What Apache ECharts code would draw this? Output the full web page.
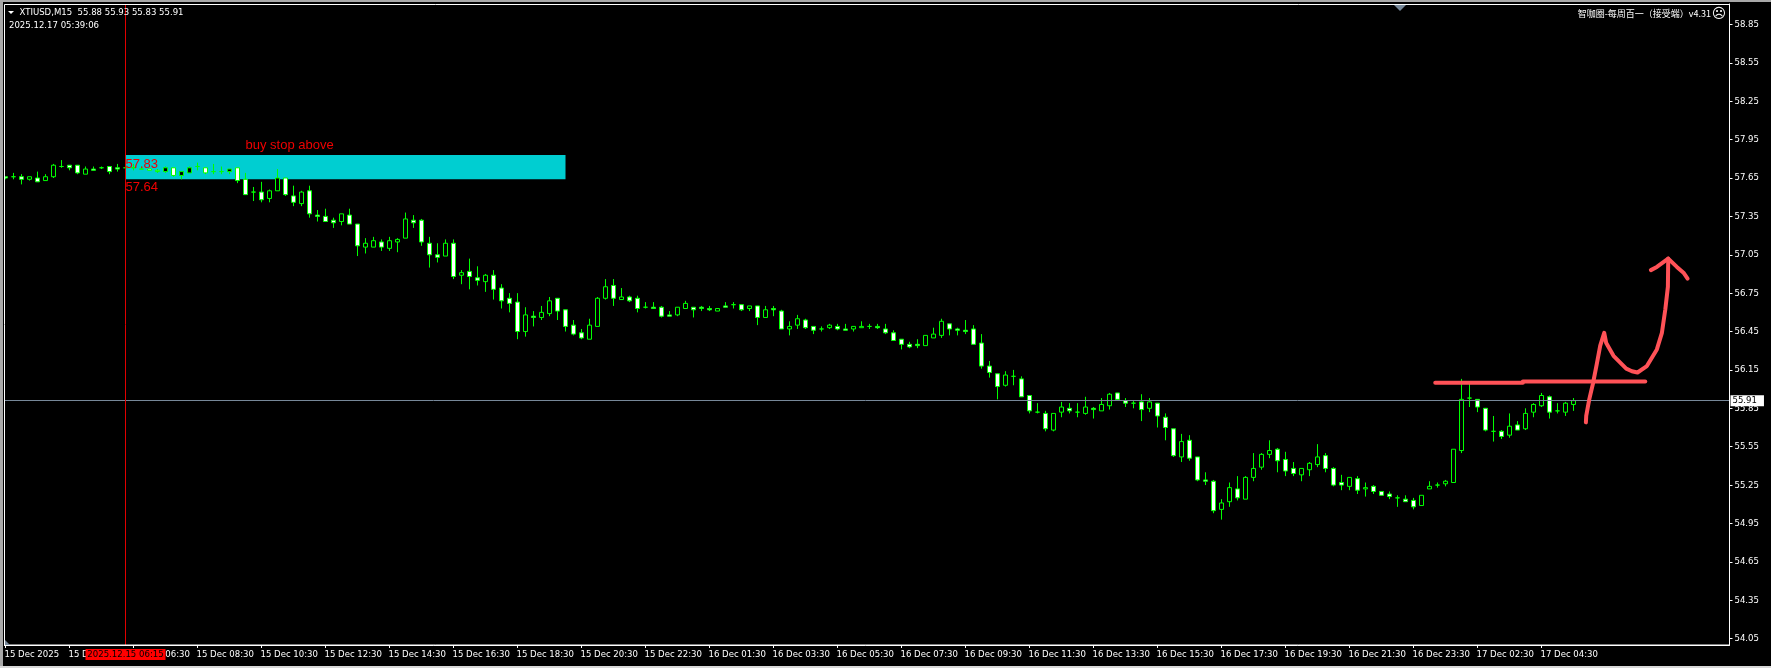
<!DOCTYPE html>
<html>
<head>
<meta charset="utf-8">
<title>XTIUSD,M15</title>
<style>
  html, body { margin: 0; padding: 0; background: #000; }
  #main { width: 1771px; height: 668px; }
</style>
<script src="https://cdn.jsdelivr.net/npm/echarts@6/dist/echarts.min.js"></script>
</head>
<body>
<div id="main"></div>
<script>
// M15 bars
var opens = [
  57.66,57.66,57.66,57.64,57.65,57.63,57.66,57.74,57.75,57.75,
  57.68,57.72,57.73,57.74,57.73,57.73,57.73,57.72,57.72,57.71,
  57.70,57.73,57.67,57.69,57.74,57.73,57.70,57.70,57.70,57.73,
  57.64,57.54,57.54,57.49,57.55,57.65,57.51,57.45,57.55,57.36,
  57.35,57.32,57.31,57.36,57.29,57.11,57.11,57.15,57.10,57.15,
  57.18,57.32,57.32,57.14,57.05,57.04,57.14,56.89,56.92,56.87,
  56.84,56.89,56.79,56.71,56.68,56.45,56.57,56.56,56.59,56.71,
  56.62,56.50,56.44,56.39,56.49,56.71,56.81,56.70,56.72,56.71,
  56.64,56.64,56.64,56.58,56.58,56.63,56.64,56.64,56.63,56.61,
  56.65,56.66,56.66,56.63,56.65,56.56,56.63,56.61,56.47,56.50,
  56.54,56.49,56.47,56.48,56.49,56.47,56.47,56.48,56.49,56.49,
  56.47,56.44,56.39,56.35,56.35,56.34,56.40,56.42,56.51,56.47,
  56.46,56.47,56.36,56.18,56.12,56.03,56.10,56.08,55.95,55.82,
  55.81,55.68,55.82,55.85,55.82,55.81,55.85,55.83,55.87,55.97,
  55.91,55.89,55.90,55.85,55.89,55.78,55.69,55.47,55.60,55.47,
  55.29,55.28,55.06,55.12,55.22,55.14,55.31,55.39,55.49,55.53,
  55.45,55.38,55.33,55.37,55.41,55.48,55.38,55.27,55.24,55.30,
  55.22,55.24,55.20,55.18,55.15,55.14,55.13,55.09,55.22,55.25,
  55.26,55.27,55.52,55.93,55.92,55.85,55.67,55.67,55.64,55.72,
  55.69,55.82,55.87,55.94,55.83,55.82,55.88
];
var closes = [
  57.65,57.66,57.64,57.66,57.62,57.66,57.75,57.74,57.73,57.69,
  57.72,57.71,57.73,57.70,57.72,57.73,57.73,57.72,57.71,57.70,
  57.73,57.67,57.70,57.73,57.74,57.69,57.70,57.70,57.72,57.63,
  57.52,57.54,57.48,57.55,57.65,57.52,57.46,57.54,57.37,57.35,
  57.31,57.30,57.37,57.29,57.12,57.14,57.16,57.11,57.16,57.17,
  57.33,57.30,57.15,57.05,57.03,57.14,56.88,56.91,56.88,56.85,
  56.89,56.78,56.69,56.67,56.45,56.58,56.56,56.60,56.69,56.61,
  56.49,56.43,56.40,56.50,56.71,56.80,56.71,56.72,56.69,56.63,
  56.64,56.63,56.57,56.57,56.64,56.67,56.62,56.63,56.62,56.63,
  56.64,56.66,56.62,56.65,56.56,56.62,56.62,56.47,56.49,56.55,
  56.48,56.46,56.47,56.50,56.47,56.46,56.49,56.49,56.49,56.48,
  56.44,56.38,56.35,56.33,56.34,56.42,56.43,56.53,56.47,56.46,
  56.45,56.35,56.18,56.13,56.02,56.11,56.10,55.94,55.83,55.82,
  55.69,55.81,55.86,55.83,55.82,55.86,55.84,55.88,55.96,55.92,
  55.89,55.89,55.84,55.90,55.79,55.70,55.48,55.59,55.46,55.29,
  55.28,55.05,55.11,55.23,55.15,55.31,55.38,55.49,55.52,55.44,
  55.36,55.34,55.38,55.42,55.47,55.38,55.25,55.25,55.31,55.21,
  55.23,55.20,55.17,55.16,55.15,55.12,55.08,55.17,55.24,55.25,
  55.28,55.53,55.92,55.93,55.86,55.68,55.67,55.63,55.71,55.68,
  55.81,55.88,55.95,55.82,55.83,55.89,55.91
];
var highs = [
  57.66,57.69,57.68,57.66,57.70,57.68,57.76,57.79,57.75,57.75,
  57.74,57.74,57.74,57.74,57.76,57.74,57.76,57.74,57.72,57.72,
  57.74,57.73,57.70,57.74,57.77,57.73,57.76,57.74,57.72,57.73,
  57.69,57.58,57.62,57.56,57.72,57.65,57.59,57.55,57.59,57.40,
  57.41,57.34,57.37,57.41,57.29,57.18,57.19,57.17,57.19,57.18,
  57.38,57.36,57.33,57.19,57.14,57.17,57.17,56.93,57.02,56.96,
  56.90,56.93,56.82,56.75,56.75,56.64,56.61,56.65,56.72,56.71,
  56.62,56.54,56.47,56.55,56.72,56.86,56.86,56.79,56.73,56.73,
  56.68,56.68,56.65,56.61,56.64,56.69,56.64,56.65,56.65,56.63,
  56.68,56.68,56.66,56.65,56.65,56.65,56.65,56.62,56.53,56.58,
  56.55,56.49,56.49,56.51,56.51,56.51,56.49,56.53,56.51,56.51,
  56.51,56.46,56.39,56.37,56.39,56.42,56.48,56.55,56.51,56.48,
  56.54,56.50,56.43,56.22,56.12,56.14,56.15,56.10,55.95,55.89,
  55.83,55.81,55.90,55.89,55.89,55.94,55.86,55.93,55.97,55.97,
  55.93,55.91,55.96,55.93,55.89,55.81,55.69,55.65,55.64,55.47,
  55.35,55.29,55.14,55.27,55.32,55.32,55.50,55.50,55.60,55.54,
  55.51,55.43,55.38,55.43,55.57,55.50,55.39,55.33,55.31,55.32,
  55.27,55.25,55.20,55.20,55.17,55.17,55.15,55.17,55.28,55.27,
  55.29,55.53,56.08,56.05,55.92,55.85,55.79,55.68,55.81,55.75,
  55.85,55.89,55.97,55.95,55.89,55.90,55.93
];
var lows = [
  57.64,57.64,57.60,57.63,57.62,57.63,57.65,57.73,57.71,57.68,
  57.68,57.71,57.72,57.68,57.70,57.72,57.71,57.72,57.71,57.69,
  57.69,57.66,57.64,57.69,57.71,57.68,57.68,57.68,57.68,57.61,
  57.52,57.47,57.46,57.46,57.55,57.51,57.43,57.43,57.34,57.31,
  57.31,57.26,57.28,57.29,57.04,57.06,57.11,57.08,57.08,57.07,
  57.18,57.26,57.12,56.95,56.99,57.04,56.86,56.82,56.78,56.81,
  56.76,56.70,56.63,56.60,56.39,56.41,56.49,56.54,56.57,56.54,
  56.45,56.42,56.39,56.39,56.49,56.70,56.65,56.70,56.68,56.60,
  56.63,56.63,56.56,56.57,56.57,56.63,56.56,56.61,56.61,56.61,
  56.64,56.63,56.61,56.61,56.50,56.56,56.57,56.47,56.42,56.47,
  56.47,56.43,56.45,56.47,56.46,56.46,56.45,56.48,56.47,56.47,
  56.43,56.38,56.31,56.32,56.32,56.34,56.40,56.40,56.42,56.42,
  56.43,56.35,56.16,56.09,55.92,56.02,56.03,55.94,55.81,55.81,
  55.67,55.67,55.78,55.81,55.78,55.80,55.77,55.83,55.84,55.92,
  55.86,55.85,55.75,55.82,55.70,55.60,55.47,55.43,55.44,55.28,
  55.25,55.03,54.98,55.08,55.13,55.14,55.28,55.37,55.46,55.35,
  55.32,55.32,55.28,55.32,55.39,55.35,55.24,55.21,55.21,55.18,
  55.16,55.18,55.17,55.14,55.08,55.12,55.06,55.09,55.22,55.23,
  55.24,55.27,55.50,55.86,55.82,55.67,55.59,55.61,55.62,55.68,
  55.68,55.78,55.86,55.77,55.81,55.79,55.83
];

// one label every 8 bars
var timeLabels = [
  "15 Dec 2025","15 Dec 04:30","15 Dec 06:30","15 Dec 08:30","15 Dec 10:30",
  "15 Dec 12:30","15 Dec 14:30","15 Dec 16:30","15 Dec 18:30","15 Dec 20:30",
  "15 Dec 22:30","16 Dec 01:30","16 Dec 03:30","16 Dec 05:30","16 Dec 07:30",
  "16 Dec 09:30","16 Dec 11:30","16 Dec 13:30","16 Dec 15:30","16 Dec 17:30",
  "16 Dec 19:30","16 Dec 21:30","16 Dec 23:30","17 Dec 02:30","17 Dec 04:30"
];
var priceTicks = [
  58.85,58.55,58.25,57.95,57.65,57.35,57.05,56.75,56.45,
  56.15,55.85,55.55,55.25,54.95,54.65,54.35,54.05
];

var lastPrice = 55.91;
var crossBar = 15;
var zoneEndBar = 70;
var zoneTop = 57.83;
var zoneBottom = 57.64;

// hand drawn red marks: bar position / price
var levelAX = [178.72, 189.67];
var levelAY = [56.05, 56.05];
var levelBX = [189.67, 204.97];
var levelBY = [56.06, 56.06];
var strokeX = [197.55,197.59,197.97,198.42,198.92,199.34,199.84,200.09,201.0,202.59,203.3,204.0,205.17,206.42,207.05,207.47,207.8,207.84];
var strokeY = [55.74,55.79,55.92,56.04,56.20,56.34,56.44,56.36,56.26,56.16,56.14,56.13,56.18,56.31,56.44,56.62,56.80,57.02];
var headX = [205.67,206.42,207.84,208.92,209.75,210.26];
var headY = [56.93,56.955,57.02,56.955,56.91,56.864];

var BAND_COUNT = 216; // 197 bars + empty space on the right, 8px each

var smallFont = '"DejaVu Sans Condensed", Roboto, sans-serif';

function zip (xs, ys) {
  var out = [];
  for (var i = 0; i < xs.length; i++) {
    out.push([xs[i], ys[i]]);
  }
  return out;
}

function redStroke (xs, ys, width) {
  return {
    type: 'line',
    xAxisIndex: 1,
    yAxisIndex: 0,
    data: zip(xs, ys),
    showSymbol: false,
    silent: true,
    clip: false,
    z: 10,
    lineStyle: { color: '#ff5257', width: width, cap: 'round', join: 'round' }
  };
}

var categories = [];
for (var i = 0; i < BAND_COUNT; i++) {
  categories.push(i % 8 === 0 && timeLabels[i / 8] ? timeLabels[i / 8] : '');
}

var candles = [];
for (var j = 0; j < opens.length; j++) {
  candles.push([opens[j], closes[j], lows[j], highs[j]]);
}

function hasLabel (index, value) {
  return value !== '';
}

var myChart = echarts.init(document.getElementById('main'));
var option = {
  animation: false,
  backgroundColor: '#000000',
  tooltip: { show: false },
  grid: { left: 1.5, top: 4, width: 1728, height: 641, containLabel: false },
  xAxis: [
    {
      type: 'category',
      data: categories,
      boundaryGap: true,
      axisLine: { show: true, lineStyle: { color: '#ffffff', width: 1 } },
      axisTick: { show: true, alignWithLabel: true, interval: hasLabel, length: 3, lineStyle: { color: '#ffffff' } },
      axisLabel: {
        show: true,
        interval: hasLabel,
        showMinLabel: true,
        showMaxLabel: true,
        color: '#ffffff',
        fontFamily: smallFont,
        fontSize: 9.5,
        align: 'left',
        margin: 5,
        padding: [0, 0, 0, -1]
      },
      splitLine: { show: false }
    },
    { type: 'value', show: false, min: -0.5, max: BAND_COUNT - 0.5 }
  ],
  yAxis: {
    type: 'value',
    position: 'right',
    min: 54.0,
    max: 59.01,
    scale: true,
    axisLine: { show: true, onZero: false, lineStyle: { color: '#ffffff', width: 1 } },
    axisTick: { show: true, length: 3, customValues: priceTicks, lineStyle: { color: '#ffffff' } },
    axisLabel: {
      color: '#ffffff',
      fontFamily: smallFont,
      fontSize: 9.5,
      margin: 5,
      customValues: priceTicks,
      formatter: function (v) { return v.toFixed(2); }
    },
    splitLine: { show: false }
  },
  series: [
    {
      type: 'candlestick',
      data: candles,
      barWidth: 5,
      itemStyle: {
        color: '#000000',
        color0: '#ffffff',
        borderColor: '#00ff00',
        borderColor0: '#00ff00',
        borderWidth: 1
      },
      markArea: {
        silent: true,
        itemStyle: { color: '#00ced1' },
        data: [[
          { coord: [crossBar, zoneTop] },
          { coord: [zoneEndBar, zoneBottom] }
        ]]
      },
      markLine: {
        silent: true,
        symbol: 'none',
        animation: false,
        precision: 2,
        data: [
          {
            yAxis: lastPrice,
            lineStyle: { color: '#778899', width: 1, type: 'solid' },
            label: {
              position: 'end',
              distance: 1,
              formatter: lastPrice.toFixed(2),
              color: '#000000',
              backgroundColor: '#ffffff',
              fontFamily: smallFont,
              fontSize: 9.5,
              padding: [0, 7, 0, 2],
              lineHeight: 11
            }
          },
          {
            xAxis: crossBar,
            lineStyle: { color: '#e00000', width: 1, type: 'solid' },
            label: {
              position: 'start',
              distance: 4,
              formatter: '2025.12.15 06:15',
              color: '#000000',
              backgroundColor: '#ff0000',
              fontFamily: smallFont,
              fontSize: 9.5,
              padding: [0, 4, 0, 4],
              lineHeight: 11,
              width: 72,
              align: 'center'
            }
          }
        ]
      }
    },
    redStroke(levelAX, levelAY, 4),
    redStroke(levelBX, levelBY, 4),
    redStroke(strokeX, strokeY, 4),
    redStroke(headX, headY, 4)
  ],
  graphic: [
    // window edge and chart frame
    { type: 'rect', z: 50, shape: { x: 0, y: 0, width: 4, height: 668 }, style: { fill: '#000000' } },
    { type: 'rect', z: 51, shape: { x: 0, y: 0, width: 3, height: 668 }, style: { fill: '#a8a8a8' } },
    { type: 'rect', z: 51, shape: { x: 0, y: 0, width: 1771, height: 2 }, style: { fill: '#a8a8a8' } },
    { type: 'rect', z: 51, shape: { x: 0, y: 666, width: 1771, height: 2 }, style: { fill: '#d8d8d8' } },
    { type: 'rect', z: 52, shape: { x: 4.5, y: 4.5, width: 1725, height: 640.5 }, style: { fill: 'none', stroke: '#ffffff', lineWidth: 1 } },
    { type: 'polygon', z: 53, shape: { points: [[1394, 5], [1406, 5], [1400, 11]] }, style: { fill: '#778899' } },
    { type: 'polygon', z: 53, shape: { points: [[5, 640], [5, 645], [10, 645]] }, style: { fill: '#778899' } },
    { type: 'polygon', z: 53, shape: { points: [[8, 11], [14, 11], [11, 14]] }, style: { fill: '#ffffff' } },
    // header
    { type: 'text', z: 54, x: 19.5, y: 13, style: { text: 'XTIUSD,M15  55.88 55.93 55.83 55.91', fill: '#ffffff', font: '9.5px ' + smallFont, textVerticalAlign: 'middle' } },
    { type: 'text', z: 54, x: 9, y: 25.5, style: { text: '2025.12.17 05:39:06', fill: '#ffffff', font: '9.5px ' + smallFont, textVerticalAlign: 'middle' } },
    { type: 'text', z: 54, x: 1711, y: 14, style: { text: '智咖圈-每周百一（接受端）v4.31', fill: '#ffffff', font: '9px "Noto Sans CJK SC", sans-serif', textAlign: 'right', textVerticalAlign: 'middle' } },
    { type: 'text', z: 54, x: 1719, y: 14, style: { text: '\u2639', fill: '#ffffff', font: '14px "DejaVu Sans", sans-serif', textAlign: 'center', textVerticalAlign: 'middle' } },
    // order zone texts
    { type: 'text', z: 54, x: 245.5, y: 145, style: { text: 'buy stop above', fill: '#f00000', font: '13px "Liberation Sans", sans-serif', textVerticalAlign: 'middle' } },
    { type: 'text', z: 54, x: 125.5, y: 164, style: { text: '57.83', fill: '#f00000', font: '13px "Liberation Sans", sans-serif', textVerticalAlign: 'middle' } },
    { type: 'text', z: 54, x: 125.5, y: 187.5, style: { text: '57.64', fill: '#f00000', font: '13px "Liberation Sans", sans-serif', textVerticalAlign: 'middle' } }
  ]
};
myChart.setOption(option);
</script>
</body>
</html>
